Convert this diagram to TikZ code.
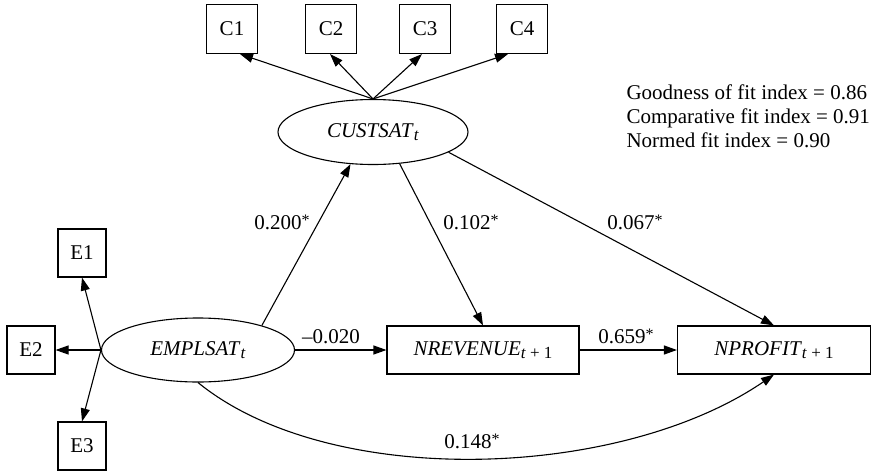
\documentclass[tikz,border=0pt]{standalone}
\usepackage{fontspec}
\setmainfont{Liberation Serif}
\usetikzlibrary{shapes.geometric,arrows.meta}
\newcommand{\lowidx}[1]{\raisebox{-0.32ex}{\fontsize{17}{17}\selectfont #1}}
\newcommand{\sig}{\raisebox{3.5pt}{\fontsize{16}{16}\selectfont *}}
\begin{document}
\begin{tikzpicture}[x=1pt,y=-1pt,
  font=\fontsize{21}{24}\selectfont,
  line width=1.1pt,
  >={Triangle[length=13pt,width=9pt]},
  cbox/.style={draw, rectangle, inner sep=0pt, minimum width=51pt, minimum height=49pt},
  ebox/.style={draw, rectangle, inner sep=0pt, minimum width=48pt, minimum height=48pt},
  wbox/.style={draw, rectangle, inner sep=0pt, minimum width=192pt, minimum height=48pt},
  latent/.style={draw, ellipse, inner sep=0pt},
  lab/.style={anchor=base, inner sep=0pt},
  fit/.style={anchor=base west, inner sep=0pt}]
\useasboundingbox (0,0) rectangle (875,471);

% indicator boxes
\node[cbox] (C1) at (232,29) {C1};
\node[cbox] (C2) at (331,29) {C2};
\node[cbox] (C3) at (425,29) {C3};
\node[cbox] (C4) at (522,29) {C4};
\node[ebox] (E1) at (82,253) {E1};
\node[ebox] (E2) at (31,350) {E2};
\node[ebox] (E3) at (82,446) {E3};

% latent variables
\node[latent, minimum width=190pt, minimum height=65pt] (CUST) at (373,132) {\textit{CUSTSAT}\lowidx{\textit{t}}};
\node[latent, minimum width=193pt, minimum height=64pt] (EMPL) at (198,350) {\textit{EMPLSAT}\lowidx{\textit{t}}};

% outcome boxes
\node[wbox] (NREV) at (483,350) {\textit{NREVENUE}\lowidx{\textit{t} + 1}};
\node[wbox, minimum width=193pt] (NPROF) at (774,350) {\textit{NPROFIT}\lowidx{\textit{t} + 1}};

% measurement arrows
\draw[->] (CUST.north) -- ([xshift=8pt]C1.south);
\draw[->] (CUST.north) -- ([xshift=-1pt]C2.south);
\draw[->] (CUST.north) -- ([xshift=-3pt]C3.south);
\draw[->] (CUST.north) -- ([xshift=-14pt]C4.south);
\draw[->] (EMPL.west) -- (E1.south);
\draw[->] (EMPL.west) -- (E2.east);
\draw[->] (EMPL.west) -- (E3.north);

% structural paths
\draw[->] (EMPL.21) -- (CUST.235);
\draw[->] (CUST.310) -- (NREV.north);
\draw[->] (CUST.345) -- (NPROF.north);
\draw[->] (EMPL.east) -- (NREV.west);
\draw[->] (NREV.east) -- (NPROF.west);
\draw[->] (EMPL.south) .. controls (330,490) and (620,480) .. (NPROF.south);

% path labels
\node[lab] (l200) at (282,229) {0.200\sig};
\node[lab] (l102) at (471,229) {0.102\sig};
\node[lab] (l067) at (635,229) {0.067\sig};
\node[lab] (l020) at (331,343) {--0.020};
\node[lab] (l659) at (626,343) {0.659\sig};
\node[lab] (l148) at (472,448) {0.148\sig};

% fit indices
\node[fit] (fit1) at (626,99) {Goodness of fit index = 0.86};
\node[fit] (fit2) at (626,123) {Comparative fit index = 0.91};
\node[fit] (fit3) at (626,147) {Normed fit index = 0.90};
\end{tikzpicture}
\end{document}
